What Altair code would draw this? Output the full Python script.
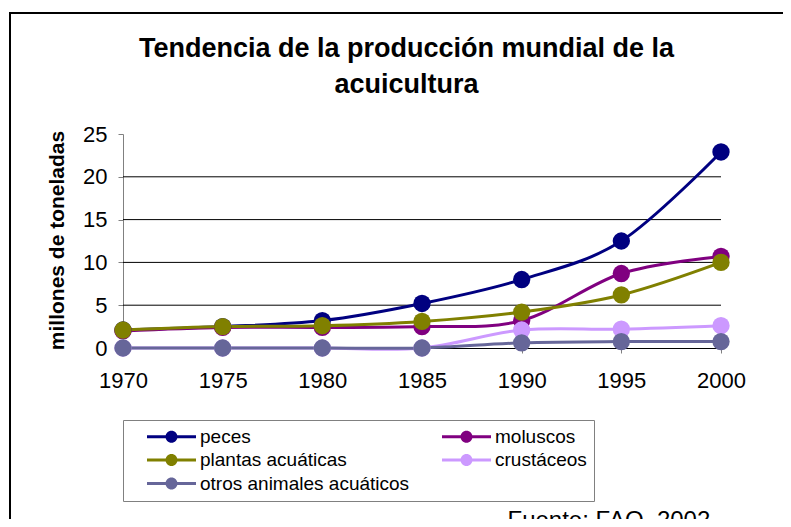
import altair as alt
import pandas as pd

# ---------------- data ----------------
years = [1970, 1975, 1980, 1985, 1990, 1995, 2000]
series = ["peces", "moluscos", "plantas acuáticas", "crustáceos", "otros animales acuáticos"]
peces = [2.1, 2.5, 3.2, 5.2, 8.0, 12.5, 22.9]
moluscos = [2.0, 2.4, 2.4, 2.5, 3.2, 8.7, 10.7]
plantas = [2.1, 2.5, 2.6, 3.1, 4.2, 6.2, 10.0]
crustaceos = [0.0, 0.0, 0.0, 0.0, 2.1, 2.2, 2.6]
otros = [0.0, 0.0, 0.0, 0.0, 0.6, 0.75, 0.75]
colors = ["#000080", "#800080", "#808000", "#CC99FF", "#666699"]
y_ticks = [0, 5, 10, 15, 20, 25]
grid_values = [5, 10, 15, 20]
title_lines = ["Tendencia de la producción mundial de la", "acuicultura"]
y_title = "millones de toneladas"
source_text = "Fuente: FAO, 2002"

# ---------------- tables ----------------
rows = []
for k, (name, vals) in enumerate(zip(series, [peces, moluscos, plantas, crustaceos, otros])):
    for yr, v in zip(years, vals):
        rows.append({"año": yr, "valor": v, "serie": name, "orden": k})
df = pd.DataFrame(rows)
grid_df = pd.DataFrame({"valor": grid_values, "x0": [years[0]] * len(grid_values),
                        "x1": [years[-1]] * len(grid_values)})

FONT = "Liberation Sans"
W, H = 781, 514

x_scale = alt.Scale(domain=[years[0], years[-1]], range=[113, 711], nice=False, zero=False)
y_scale = alt.Scale(domain=[0, 25], range=[335, 121], nice=False, zero=False)

# legend symbol: a line with a dot on it, drawn at the left of a wide legend cell
CELL = 290            # width of each legend cell (symbol slot)
s = CELL / 2
line_x0, line_x1 = 17, 66
u0 = (line_x0 - s) / s
u1 = (line_x1 - s) / s
uc = ((line_x0 + line_x1) / 2 - s) / s
r = 6 / s
ht = 1.5 / s
sym_path = (f"M{u0:.5f},{-ht:.5f}H{u1:.5f}V{ht:.5f}H{u0:.5f}Z "
            f"M{uc + r:.5f},0A{r:.5f},{r:.5f} 0 1 1 {uc - r:.5f},0"
            f"A{r:.5f},{r:.5f} 0 1 1 {uc + r:.5f},0Z")
label_offset = (line_x1 + 4) - CELL

x_axis = alt.Axis(values=years, format="d", offset=-179, grid=False,
                  domainColor="black", domainWidth=1, tickColor="#808080", tickSize=5,
                  labelFontSize=22, labelPadding=17, labelColor="black", labelFont=FONT,
                  labelFlush=False, labelOverlap=False,
                  title=source_text, titleX=497, titleY=160, titleAlign="left",
                  titleBaseline="top", titleFontSize=24, titleFontWeight="normal",
                  titleColor="black", titleFont=FONT)
y_axis = alt.Axis(values=y_ticks, offset=-113, grid=False,
                  domainColor="#808080", tickColor="#808080", tickSize=5,
                  labelFontSize=22, labelPadding=11, labelColor="black", labelFont=FONT,
                  labelOverlap=False,
                  title=y_title, titleX=-66, titleY=227, titleAngle=270, titleAlign="center",
                  titleBaseline="middle", titleFontSize=21, titleFontWeight="bold",
                  titleColor="black", titleFont=FONT)

grid = alt.Chart(grid_df).mark_rule(color="black", strokeWidth=1).encode(
    x=alt.X("x0:Q", scale=x_scale, axis=x_axis),
    x2="x1:Q",
    y=alt.Y("valor:Q", scale=y_scale, axis=y_axis),
)

lines = alt.Chart(df).mark_line(strokeWidth=3, interpolate="cardinal").encode(
    x=alt.X("año:Q", scale=x_scale, axis=x_axis),
    y=alt.Y("valor:Q", scale=y_scale, axis=y_axis),
    stroke=alt.Stroke("serie:N", sort=series, scale=alt.Scale(range=colors), legend=None),
    detail="serie:N",
)

points = alt.Chart(df).mark_point(filled=True, size=300, opacity=1).encode(
    x=alt.X("año:Q", scale=x_scale, axis=x_axis),
    y=alt.Y("valor:Q", scale=y_scale, axis=y_axis),
    color=alt.Color("serie:N", scale=alt.Scale(domain=series, range=colors),
                    legend=alt.Legend(title=None,
                                      orient="none", legendX=113, legendY=407,
                                      direction="horizontal", columns=2, gridAlign="all",
                                      columnPadding=15, rowPadding=3.5, clipHeight=19,
                                      padding=7, strokeColor="#808080", fillColor="white",
                                      symbolType=sym_path, symbolSize=CELL * CELL,
                                      symbolStrokeWidth=0, symbolOpacity=1,
                                      labelFont=FONT, labelFontSize=19,
                                      labelOffset=alt.ExprRef(expr=str(label_offset)),
                                      labelColor="black", labelLimit=400)),
    order="orden:Q",
)

chart = alt.layer(grid, lines, points).properties(
    width=W, height=H,
    padding={"left": 2, "top": 5, "right": -8, "bottom": -8},
    autosize=alt.AutoSizeParams(type="none"),
    title=alt.TitleParams(text=title_lines, font=FONT, fontSize=27, fontWeight="bold",
                          color="black", anchor="middle", frame="group", baseline="top",
                          offset=-86, lineHeight=36, dx=6),
).configure(font=FONT).configure_view(stroke="black", strokeWidth=2)

chart.save("out.html", embed_options={"renderer": "svg", "actions": False})
